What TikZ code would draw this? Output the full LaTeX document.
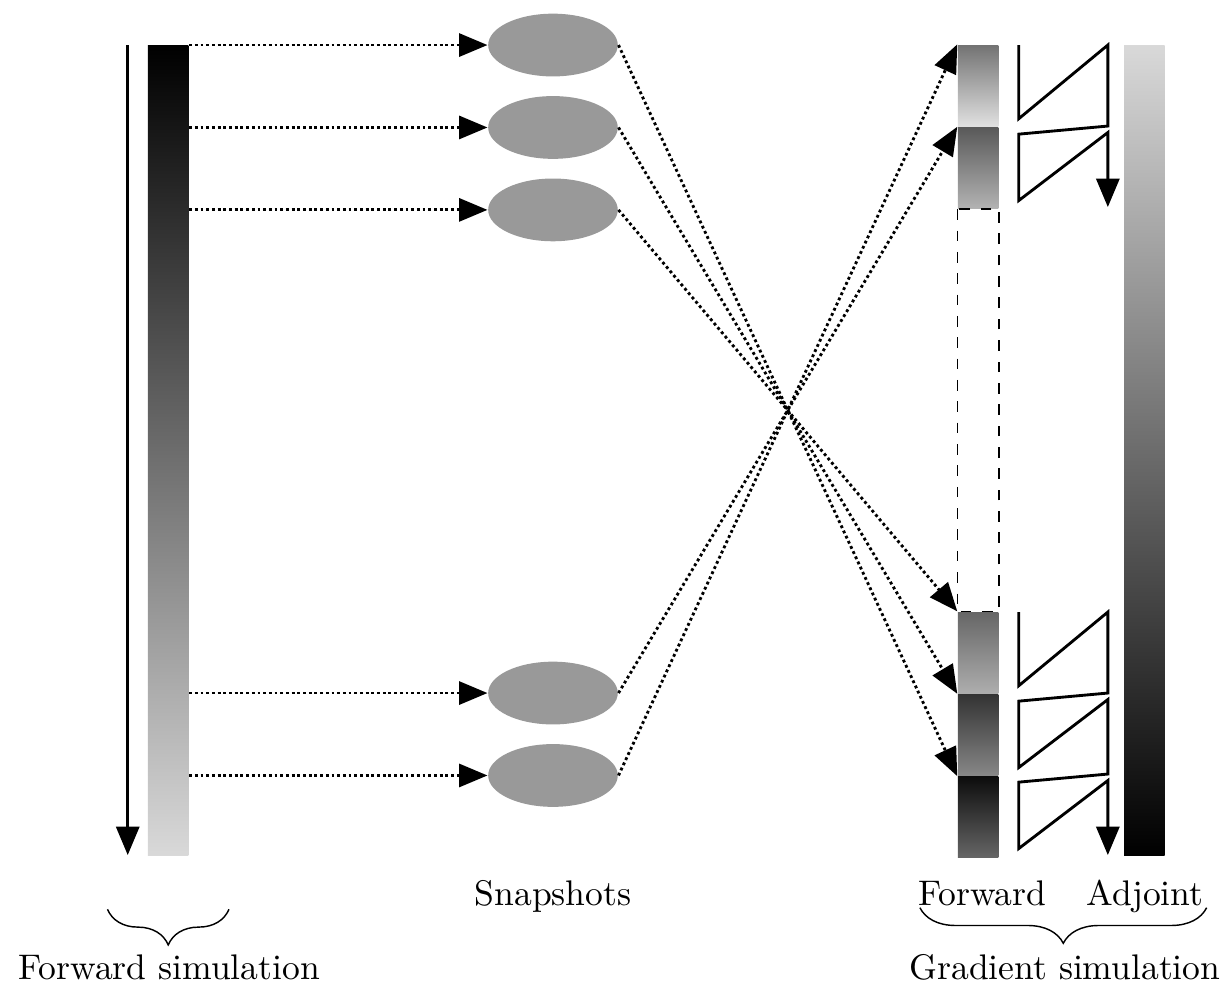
\documentclass[tikz,border=0pt]{standalone}
\usetikzlibrary{arrows.meta,decorations.pathreplacing,shapes.geometric,positioning}

\tikzset{
  tip/.style={-{Triangle[length=8pt,width=6.5pt]}},
  dots/.style={thick,dash pattern=on 0.8pt off 0.8pt,tip},
  snap/.style={ellipse,fill=black!40,minimum width=1.28cm,minimum height=0.62cm,inner sep=0pt},
  bar/.style={rectangle,inner sep=0pt,minimum width=0.4cm,minimum height=8cm},
  blk/.style={rectangle,inner sep=0pt,minimum width=0.4cm,minimum height=0.8cm},
  brc/.style={decorate,decoration={brace,mirror,amplitude=10pt}},
}

\begin{document}
\begin{tikzpicture}[x=0.8cm,y=0.8cm,node distance=0.18cm]
  \useasboundingbox (-1.827,0.556) rectangle (13.284,-11.642);

  % forward run
  \node[bar,top color=black,bottom color=black!15] (sim) at (0.25,-5) {};
  \coordinate (t0) at (-0.25,0);
  \coordinate (t1) at (-0.25,-10);
  \draw[thick,tip] (t0) -- (t1);

  % stored states
  \node[snap] (snap1) at (5,0) {};
  \node[snap] (snap2) [below=of snap1] {};
  \node[snap] (snap3) [below=of snap2] {};
  \node[snap] (snap4) at (5,-8) {};
  \node[snap] (snap5) [below=of snap4] {};

  % recomputed pieces
  \node[blk,top color=black!55,bottom color=black!12] (fwd1) at (10.25,-0.5) {};
  \node[blk,top color=black!65,bottom color=black!30] (fwd2) [below=0pt of fwd1] {};
  \node[blk,top color=black!60,bottom color=black!32] (fwd3) at (10.25,-7.5) {};
  \node[blk,top color=black!80,bottom color=black!47] (fwd4) [below=0pt of fwd3] {};
  \node[blk,top color=black!95,bottom color=black!60] (fwd5) [below=0pt of fwd4] {};
  \draw[dashed] (fwd2.south west) rectangle (fwd3.north east);

  % backward run
  \node[bar,top color=black!15,bottom color=black] (adj) at (12.3,-5) {};

  \foreach \i in {1,...,5}
    \draw[dots] (sim.east |- snap\i) -- (snap\i.west);

  \path[dots] (snap1.east) edge (fwd5.north west)
              (snap2.east) edge (fwd4.north west)
              (snap3.east) edge (fwd3.north west)
              (snap4.east) edge (fwd2.north west)
              (snap5.east) edge (fwd1.north west);

  \draw[thick,tip] (10.75,0) -- (10.75,-0.91) -- (11.85,0) -- (11.85,-1)
    -- (10.75,-1.1) -- (10.75,-1.92) -- (11.85,-1.08) -- (11.85,-2);
  \draw[thick,tip] (10.75,-7) -- (10.75,-7.91) -- (11.85,-7) -- (11.85,-8)
    -- (10.75,-8.1) -- (10.75,-8.92) -- (11.85,-8.08) -- (11.85,-9)
    -- (10.75,-9.1) -- (10.75,-9.92) -- (11.85,-9.08) -- (11.85,-10);

  % labels
  \node[anchor=base] (lsnap) at (5,-10.62) {Snapshots};
  \node[anchor=base] (lfwd) at (10.3,-10.62) {Forward};
  \node[anchor=base] (ladj) at (12.31,-10.62) {Adjoint};

  \coordinate (b0) at (-0.5,-10.67);
  \coordinate (b1) at (1,-10.67);
  \draw[brc] (b0) -- (b1);
  \node[anchor=base] (lsim) at (0.26,-11.54) {Forward simulation};

  \coordinate (b2) at (9.53,-10.65);
  \coordinate (b3) at (13.07,-10.65);
  \draw[brc] (b2) -- (b3);
  \node[anchor=base] (lgrad) at (11.32,-11.54) {Gradient simulation};
\end{tikzpicture}
\end{document}
